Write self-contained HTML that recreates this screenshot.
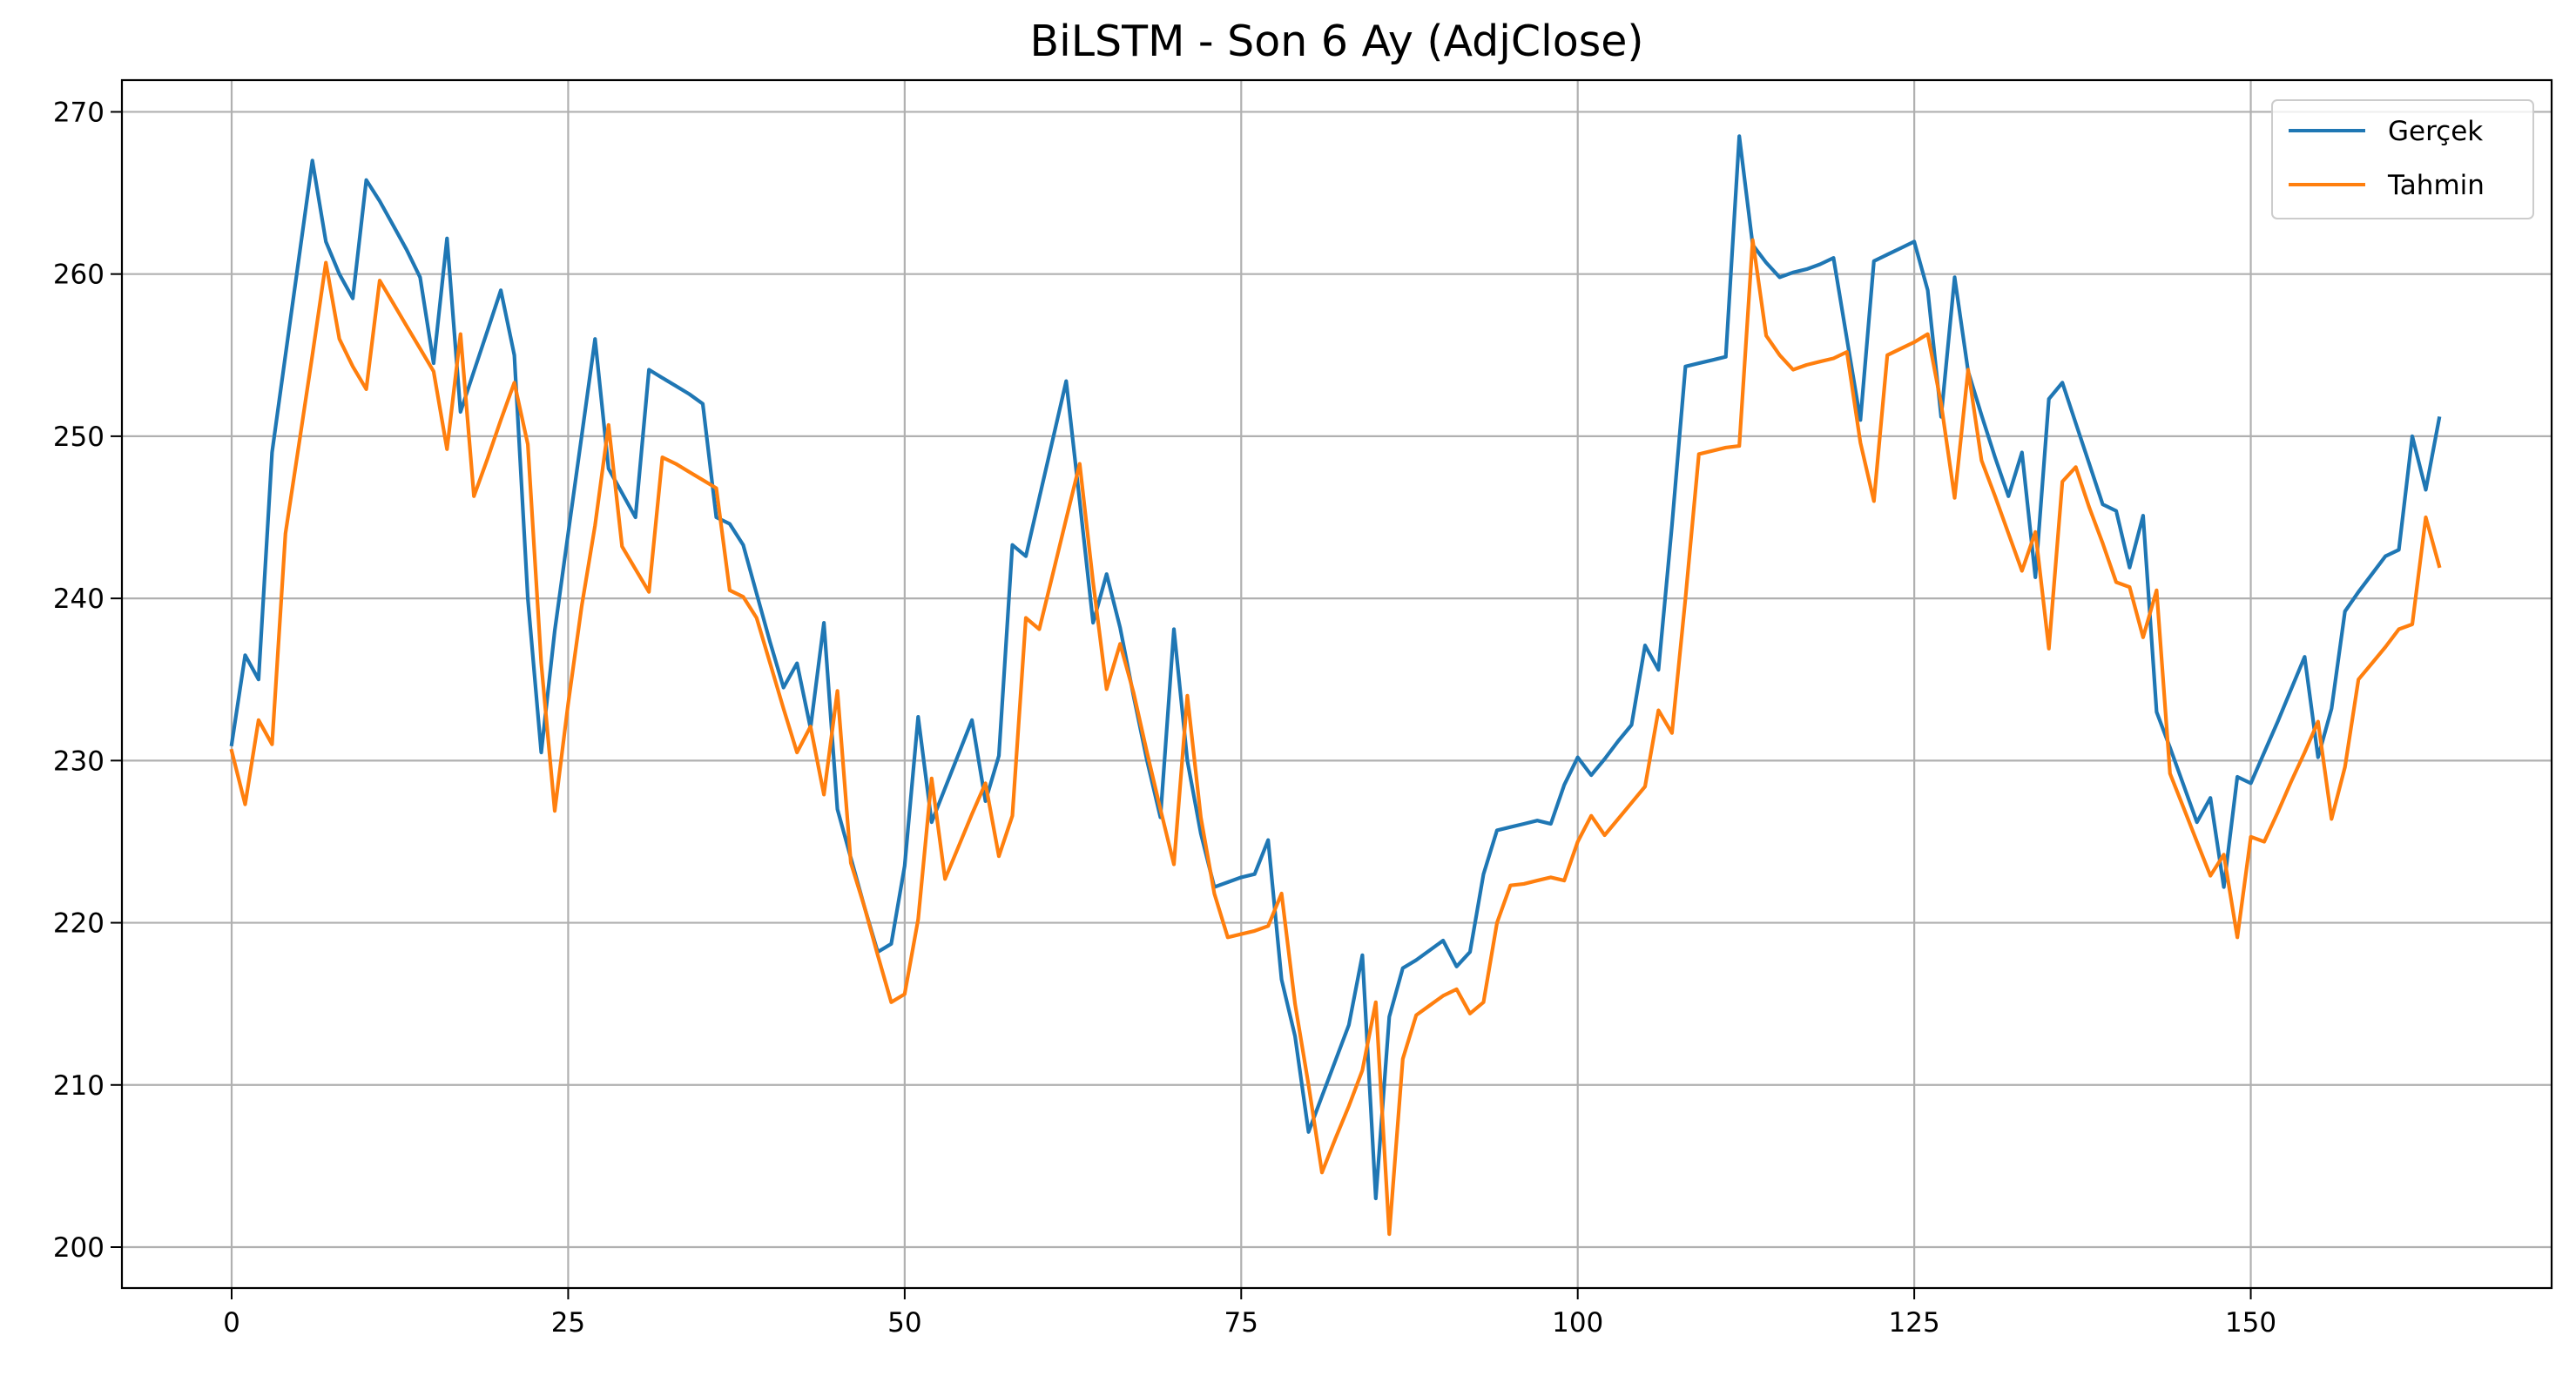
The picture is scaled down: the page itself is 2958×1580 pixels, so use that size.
<!DOCTYPE html>
<html><head><meta charset="utf-8"><style>
html,body{margin:0;padding:0;background:#fff;}
svg{display:block;font-family:"DejaVu Sans","Liberation Sans",sans-serif;}
</style></head><body>
<svg id="chart" width="2958" height="1580" viewBox="0 0 2958 1580" xmlns="http://www.w3.org/2000/svg">
<rect width="2958" height="1580" fill="#fff"/>
<text x="1535" y="64" text-anchor="middle" font-size="49" fill="#000">BiLSTM - Son 6 Ay (AdjClose)</text>
<g id="grid"></g>
<g id="series"></g>
<rect x="140" y="92" width="2790" height="1387" fill="none" stroke="#000" stroke-width="2.2"/>
<g id="ticks"></g>
<g>
<rect x="2609" y="115" width="300" height="136" rx="6" fill="#fff" fill-opacity="0.8" stroke="#ccc" stroke-width="2"/>
<line x1="2628" y1="150" x2="2716" y2="150" stroke="#1f77b4" stroke-width="4"/>
<text x="2742" y="161" font-size="31" fill="#000">Gerçek</text>
<line x1="2628" y1="212" x2="2716" y2="212" stroke="#ff7f0e" stroke-width="4"/>
<text x="2742" y="223" font-size="31" fill="#000">Tahmin</text>
</g>
</svg>
<script>
const xTicks = [0, 25, 50, 75, 100, 125, 150];
const yTicks = [200, 210, 220, 230, 240, 250, 260, 270];
const gercek = [231.0,236.5,235.0,249,255,261,267,262,260,258.5,265.8,264.5,263,261.5,259.8,254.5,262.2,251.5,254,256.5,259,255,240,230.5,238,244,250,256,248,246.5,245,254.1,253.6,253.1,252.6,252,245,244.6,243.3,240.3,237.3,234.5,236,232,238.5,227,224,221,218.2,218.7,223.5,232.7,226.2,228.3,230.4,232.5,227.5,230.3,243.3,242.6,246.2,249.8,253.4,246,238.5,241.5,238.2,234,230,226.5,238.1,230,225.5,222.2,222.5,222.8,223,225.1,216.5,213,207.1,209.3,211.5,213.7,218,203,214.2,217.2,217.7,218.3,218.9,217.3,218.2,223,225.7,225.9,226.1,226.3,226.1,228.5,230.2,229.1,230.1,231.2,232.2,237.1,235.6,244.5,254.3,254.5,254.7,254.9,268.5,261.8,260.7,259.8,260.1,260.3,260.6,261.0,256,251,260.8,261.2,261.6,262,259,251.2,259.8,254,251.3,248.7,246.3,249,241.3,252.3,253.3,250.8,248.3,245.8,245.4,241.9,245.1,233,230.8,228.5,226.2,227.7,222.2,229,228.6,230.5,232.4,234.4,236.4,230.2,233.2,239.2,240.4,241.5,242.6,243,250,246.7,251.1];
const tahmin = [230.6,227.3,232.5,231,244,249.5,255,260.7,256,254.3,252.9,259.6,258.2,256.8,255.4,254,249.2,256.3,246.3,248.6,251,253.3,249.5,236,226.9,233.5,239.5,244.5,250.7,243.2,241.8,240.4,248.7,248.3,247.8,247.3,246.8,240.5,240.1,238.8,236,233.2,230.5,232.1,227.9,234.3,223.7,221,218,215.1,215.6,220.2,228.9,222.7,224.7,226.7,228.6,224.1,226.6,238.8,238.1,241.5,244.9,248.3,241,234.4,237.2,234.2,230.5,227,223.6,234,226.5,221.8,219.1,219.3,219.5,219.8,221.8,215,210,204.6,206.7,208.7,210.9,215.1,200.8,211.6,214.3,214.9,215.5,215.9,214.4,215.1,220,222.3,222.4,222.6,222.8,222.6,225,226.6,225.4,226.4,227.4,228.4,233.1,231.7,240,248.9,249.1,249.3,249.4,262.1,256.2,255,254.1,254.4,254.6,254.8,255.2,249.6,246,255,255.4,255.8,256.3,252,246.2,254.1,248.5,246.3,244,241.7,244.1,236.9,247.2,248.1,245.6,243.4,241,240.7,237.6,240.5,229.2,227.1,225,222.9,224.2,219.1,225.3,225,226.8,228.7,230.5,232.4,226.4,229.6,235,236,237,238.1,238.4,245,242];

const NS = "http://www.w3.org/2000/svg";
const L = 140, R = 2930, T = 92, B = 1479;
function xs(v){ return 266 + v * 15.457; }
function ys(v){ return 1432 - (v - 200) * 18.622; }
function mk(tag, attrs, parent){
  const e = document.createElementNS(NS, tag);
  for (const k in attrs) e.setAttribute(k, attrs[k]);
  parent.appendChild(e);
  return e;
}
const grid = document.getElementById('grid');
const ticks = document.getElementById('ticks');
xTicks.forEach(t => {
  const x = xs(t);
  const g = mk('line', {x1:x, y1:T, x2:x, y2:B, stroke:'#b0b0b0', 'stroke-width':2.2}, grid);
  
  
  const tk = mk('line', {x1:x, y1:B, x2:x, y2:B+13, stroke:'#000', 'stroke-width':2}, ticks);
  
  
  const lb = mk('text', {x:x, y:B+50, 'text-anchor':'middle', 'font-size':31, fill:'#000'}, ticks);
  lb.textContent = t;
  
  
});
yTicks.forEach(t => {
  const y = ys(t);
  const g = mk('line', {x1:L, y1:y, x2:R, y2:y, stroke:'#b0b0b0', 'stroke-width':2.2}, grid);
  
  
  const tk = mk('line', {x1:L-13, y1:y, x2:L, y2:y, stroke:'#000', 'stroke-width':2}, ticks);
  
  
  const lb = mk('text', {x:L-20, y:y+11, 'text-anchor':'end', 'font-size':31, fill:'#000'}, ticks);
  lb.textContent = t;
  
  
});
const series = document.getElementById('series');
function drawLine(data, color){
  const pts = data.map((v, i) => xs(i).toFixed(1) + ',' + ys(v).toFixed(1)).join(' ');
  return mk('polyline', {points:pts, fill:'none', stroke:color, 'stroke-width':4.2, 'stroke-linejoin':'round', 'stroke-linecap':'square'}, series);
}
const l1 = drawLine(gercek, '#1f77b4');


const l2 = drawLine(tahmin, '#ff7f0e');


</script>
</body></html>
